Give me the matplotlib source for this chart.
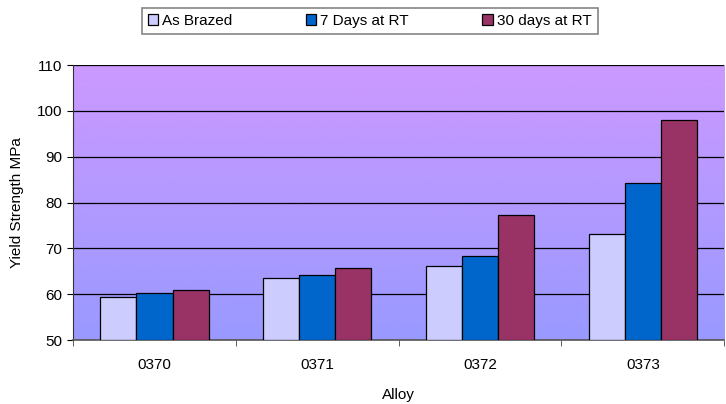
import numpy as np
import matplotlib
matplotlib.use("Agg")
import matplotlib.pyplot as plt
from matplotlib.colors import LinearSegmentedColormap

plt.rcParams['font.family'] = ['Liberation Sans', 'DejaVu Sans']

# data
alloys = ['0370', '0371', '0372', '0373']
as_brazed = [59.4, 63.5, 66.2, 73.1]
days_7 = [60.2, 64.2, 68.3, 84.2]
days_30 = [60.9, 65.7, 77.4, 98.0]
series_names = ['As Brazed', '7 Days at RT', '30 days at RT']
colors = ['#CCCCFF', '#0066CC', '#993366']

fig = plt.figure(figsize=(7.26, 4.04), dpi=100)
ax = fig.add_axes([0.1006, 0.158, 0.897, 0.681])

# gradient background of the plot area
grad = LinearSegmentedColormap.from_list('bg', ['#9999FF', '#CC99FF'])
ax.imshow(np.linspace(0, 1, 256).reshape(-1, 1), cmap=grad, aspect='auto',
          extent=[-0.5, len(alloys) - 0.5, 50, 110], origin='lower', zorder=0)

x = np.arange(len(alloys))
w = 0.222
for i, (vals, name, c) in enumerate(zip([as_brazed, days_7, days_30], series_names, colors)):
    ax.bar(x + (i - 1) * w, np.array(vals) - 50, bottom=50, width=w, color=c,
           edgecolor='black', linewidth=0.9, label=name, zorder=3)

ax.set_xlim(-0.5, len(alloys) - 0.5)
ax.set_ylim(50, 110)
ax.set_yticks(range(50, 111, 10))
ax.yaxis.grid(True, color='black', linewidth=0.9, zorder=1)
ax.set_axisbelow(True)
ax.set_xticks(x)
ax.set_xticklabels(alloys)
ax.set_xticks(np.arange(-0.5, len(alloys)), minor=True)
ax.tick_params(axis='x', which='major', length=0, labelsize=11, pad=13)
ax.tick_params(axis='x', which='minor', length=4, color='#444444')
ax.tick_params(axis='y', length=4, labelsize=11, pad=4)

for s in ['top', 'right']:
    ax.spines[s].set_visible(False)
ax.spines['left'].set_color('#333333')
ax.spines['bottom'].set_color('#555555')
ax.spines['bottom'].set_linewidth(1.2)

ax.set_ylabel('Yield Strength MPa', fontsize=11, labelpad=9)
ax.set_xlabel('Alloy', fontsize=11, labelpad=11)

leg = fig.legend(loc='upper center', bbox_to_anchor=(0.509, 1.0), ncol=3,
                 fontsize=11, frameon=True, fancybox=False, handlelength=0.7,
                 handleheight=0.7, handletextpad=0.25, columnspacing=4.8,
                 borderpad=0.4)
leg.get_frame().set_edgecolor('#666666')
leg.get_frame().set_linewidth(1.2)

fig.savefig('out.png', dpi=100)
